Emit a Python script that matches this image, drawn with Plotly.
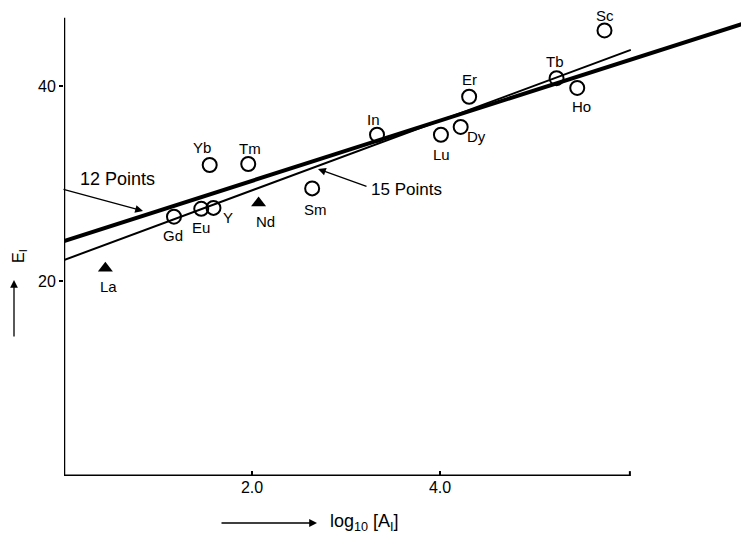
import plotly.graph_objects as go

# ---- data ----
circle_names = ["Gd", "Eu", "Y", "Yb", "Tm", "Sm", "In", "Lu", "Dy", "Er", "Tb", "Ho", "Sc"]
circle_x = [1.17, 1.46, 1.59, 1.55, 1.96, 2.64, 3.33, 4.01, 4.22, 4.31, 5.24, 5.46, 5.75]
circle_y = [26.6, 27.4, 27.5, 31.9, 32.0, 29.5, 35.0, 35.0, 35.8, 38.9, 40.8, 39.8, 45.7]

tri_names = ["La", "Nd"]
tri_x = [0.44, 2.07]
tri_y = [21.3, 28.0]

line12_x = [0.0, 7.29]
line12_y = [24.1, 46.6]
line15_x = [0.0, 6.03]
line15_y = [22.15, 43.7]

x_tickvals = [2.0, 4.0]
x_ticktext = ["2.0", "4.0"]
y_tickvals = [20, 40]
y_ticktext = ["20", "40"]

# label offsets in pixels (dx right, dy down) -- styling only
label_offset = {
    "Gd": (-1, 19), "Eu": (0, 19), "Y": (15, 10), "Yb": (-8, -17), "Tm": (2, -16),
    "Sm": (3, 21), "In": (-4, -15), "Lu": (1, 20), "Dy": (16, 10), "Er": (0, -17),
    "Tb": (-2, -17), "Ho": (4, 19), "Sc": (0, -15), "La": (3, 18), "Nd": (7, 18),
}

# ---- layout geometry (page has an 8px body margin) ----
OFF = 8
W, H = 749 - OFF, 541 - OFF
ML = 64 - OFF
AXIS_Y = 476 - OFF
MB = H - AXIS_Y
PW, PH = W - ML, AXIS_Y
XR = [0, PW / 94.0]
YR = [0, PH / 9.75]

def px(xp):
    return (xp - OFF - ML) / PW

def py(yp):
    return (AXIS_Y - (yp - OFF)) / PH

FONT = "Liberation Sans"

fig = go.Figure()

fig.add_trace(go.Scatter(x=line12_x, y=line12_y, mode="lines",
                         line=dict(color="black", width=4), hoverinfo="skip"))
fig.add_trace(go.Scatter(x=line15_x, y=line15_y, mode="lines",
                         line=dict(color="black", width=2), hoverinfo="skip"))

fig.add_trace(go.Scatter(x=circle_x, y=circle_y, mode="markers",
                         marker=dict(symbol="circle-open", size=14, color="black",
                                     line=dict(width=2, color="black"))))
fig.add_trace(go.Scatter(x=tri_x, y=tri_y, mode="markers",
                         marker=dict(symbol="triangle-up", size=13, color="black")))

# point labels
for names, xs, ys in ((circle_names, circle_x, circle_y), (tri_names, tri_x, tri_y)):
    for n, xv, yv in zip(names, xs, ys):
        dx, dy = label_offset[n]
        fig.add_annotation(x=xv, y=yv, xref="x", yref="y", text=n, showarrow=False,
                           xanchor="center", yanchor="middle", xshift=dx, yshift=-dy,
                           font=dict(family=FONT, size=15, color="black"))

# axis lines
fig.add_shape(type="line", x0=0, y0=0, x1=0, y1=47.0, xref="x", yref="y",
              line=dict(color="black", width=2.5))
fig.add_shape(type="line", x0=0, y0=0, x1=6.02, y1=0, xref="x", yref="y",
              line=dict(color="black", width=3))
fig.add_shape(type="line", x0=6.02, y0=0, x1=6.02, y1=0.5, xref="x", yref="y",
              line=dict(color="black", width=2))

ann = []
# 12 Points
ann.append(dict(x=143, y=211, ax=-81, ay=-22, text="", showarrow=True,
                arrowhead=2, arrowsize=1.2, arrowwidth=1.3, arrowcolor="black"))
ann.append(dict(x=117, y=179, text="12 Points", showarrow=False,
                font=dict(family=FONT, size=18, color="black")))
# 15 Points
ann.append(dict(x=318, y=169, ax=50, ay=18, text="", showarrow=True,
                arrowhead=2, arrowsize=1.2, arrowwidth=1.3, arrowcolor="black"))
ann.append(dict(x=406, y=190, text="15 Points", showarrow=False,
                font=dict(family=FONT, size=17, color="black")))
# axis titles
ann.append(dict(x=14, y=280, ax=0, ay=58, text="", showarrow=True,
                arrowhead=2, arrowsize=1.2, arrowwidth=1.3, arrowcolor="black"))
ann.append(dict(x=19, y=256, text="E<sub>I</sub>", showarrow=False, textangle=-90,
                font=dict(family=FONT, size=16, color="black")))
ann.append(dict(x=317, y=523, ax=-97, ay=0, text="", showarrow=True,
                arrowhead=2, arrowsize=1.2, arrowwidth=1.3, arrowcolor="black"))
ann.append(dict(x=364, y=522, text="log<sub>10</sub> [A<sub>I</sub>]", showarrow=False,
                font=dict(family=FONT, size=18, color="black")))

for a in ann:
    a["x"] = px(a["x"])
    a["y"] = py(a["y"])
    a["xref"] = "paper"
    a["yref"] = "paper"
    a["xanchor"] = "center"
    a["yanchor"] = "middle"
    if a.get("showarrow"):
        a["axref"] = "pixel"
        a["ayref"] = "pixel"
    fig.add_annotation(**a)

fig.update_layout(
    width=W, height=H,
    margin=dict(l=ML, r=0, t=0, b=MB),
    paper_bgcolor="white", plot_bgcolor="white",
    showlegend=False,
    font=dict(family=FONT, size=15, color="black"),
    xaxis=dict(range=XR, showgrid=False, zeroline=False, showline=False,
               tickvals=x_tickvals, ticktext=x_ticktext, ticks="inside",
               ticklen=5, tickwidth=2, tickcolor="black",
               tickfont=dict(family=FONT, size=16, color="black")),
    yaxis=dict(range=YR, showgrid=False, zeroline=False, showline=False,
               tickvals=y_tickvals, ticktext=y_ticktext, ticks="outside",
               ticklen=4, tickwidth=2, tickcolor="black",
               tickfont=dict(family=FONT, size=16, color="black")),
)

fig.write_html("out.html")
